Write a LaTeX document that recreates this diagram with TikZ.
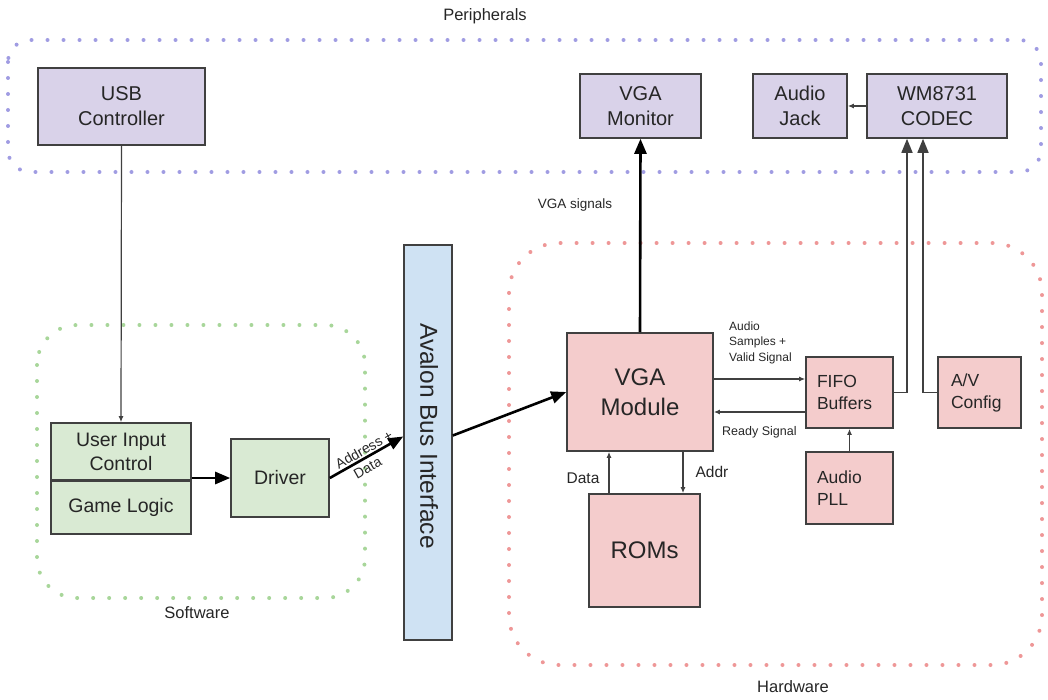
\documentclass[tikz,border=0pt]{standalone}
\usepackage{fontspec}
\setmainfont{Liberation Sans}
\usetikzlibrary{arrows.meta,calc}
\definecolor{lav}{HTML}{D9D2E9}
\definecolor{grn}{HTML}{D9EAD3}
\definecolor{pnk}{HTML}{F4CCCC}
\definecolor{blu}{HTML}{CFE2F3}
\definecolor{pdot}{HTML}{A09CE2}
\definecolor{gdot}{HTML}{A8D69A}
\definecolor{rdot}{HTML}{EE9797}
\definecolor{bordc}{HTML}{404040}
\definecolor{txtc}{HTML}{262626}
\newcommand\fs[2]{\fontsize{#1}{#2}\selectfont}
\tikzset{
  box/.style={draw=bordc, line width=1.6pt, text=txtc, inner sep=0pt, align=center},
  periph/.style={box, fill=lav, font=\fs{20}{25}},
  sw/.style={box, fill=grn, font=\fs{19.5}{24}},
  hw/.style={box, fill=pnk},
  hwl/.style={hw, align=left, font=\fs{17.5}{22}},
  region/.style={line width=4pt, line cap=round, dash pattern=on 0pt off 16pt},
  lbl/.style={text=txtc, inner sep=0pt},
  thinarrow/.style={draw=bordc, line width=1.2pt, -{Latex[length=6pt,width=5pt]}},
  elbowarrow/.style={draw=bordc, line width=1.6pt, -{Triangle[length=14pt,width=11pt]}},
  thickarrow/.style={draw=black, line width=2.6pt, -{Triangle[length=15pt,width=12pt]}}
}
\begin{document}
\begin{tikzpicture}[x=1pt,y=-1pt]
\useasboundingbox (0,0) rectangle (1048,700);

% regions
\draw[region, draw=pdot, rounded corners=22pt] (8,40) rectangle (1041,172);
\draw[region, draw=gdot, rounded corners=40pt] (37,325) rectangle (365,598);
\draw[region, draw=rdot, rounded corners=50pt] (509,243) rectangle (1042,665);
\node[lbl, font=\fs{16.5}{20}] (tper) at (485,16) {Peripherals};
\node[lbl, font=\fs{16.5}{20}] (tsw) at (197,613) {Software};
\node[lbl, font=\fs{16.5}{20}] (thw) at (793,687) {Hardware};

% peripherals
\node[periph, minimum width=167pt, minimum height=77pt] (usb) at (121.5,106.5) {USB\\Controller};
\node[periph, minimum width=121pt, minimum height=64pt] (mon) at (640.5,106) {VGA\\Monitor};
\node[periph, minimum width=94pt, minimum height=64pt] (jack) at (800,106) {Audio\\Jack};
\node[periph, minimum width=140pt, minimum height=64pt] (codec) at (937,106) {WM8731\\CODEC};

% software
\node[sw, minimum width=140pt, minimum height=57pt] (uic) at (121,451.5) {User Input\\Control};
\node[sw, minimum width=140pt, minimum height=54pt] (game) at (121,507) {Game Logic};
\draw[bordc, line width=3pt] (uic.south west) -- (uic.south east);
\node[sw, minimum width=98pt, minimum height=78pt] (driver) at (280,478) {Driver};

% bus
\node[box, fill=blu, minimum width=48pt, minimum height=395pt] (avalon) at (428,442.5) {};
\node[lbl, rotate=-90, font=\fs{24.5}{28}] (avtext) at (429,436) {Avalon Bus Interface};

% hardware
\node[hw, minimum width=146pt, minimum height=118pt, font=\fs{24}{30}] (vga) at (640,392) {VGA\\Module};
\node[hw, minimum width=111pt, minimum height=113pt, font=\fs{24}{30}] (roms) at (644.5,550.5) {ROMs};
\node[hwl, text width=65pt, inner xsep=11pt, minimum height=71pt] (fifo) at (849.5,392.5) {FIFO\\Buffers};
\node[hwl, text width=65pt, inner xsep=11pt, minimum height=72pt] (pll) at (849.5,488) {Audio\\PLL};
\node[hwl, text width=57pt, inner xsep=13pt, minimum height=71pt] (avc) at (979.5,392.5) {A/V\\Config};

% labels
\node[lbl, font=\fs{13.5}{16}] (lvga) at (575,205) {VGA signals};
\node[lbl, font=\fs{12}{15.5}, align=left, anchor=west] (lsamp) at (729,342.5) {Audio\\Samples +\\Valid Signal};
\node[lbl, font=\fs{12.5}{15}, anchor=west] (lready) at (722,432) {Ready Signal};
\node[lbl, font=\fs{15.5}{18}] (ldata) at (583,478) {Data};
\node[lbl, font=\fs{15.5}{18}] (laddr) at (712,472) {Addr};

% helper coordinates
\coordinate (asy) at ($(fifo.west)+(0,-13.5)$);
\coordinate (rdy) at ($(fifo.west)+(0,19.5)$);
\coordinate (dat) at ($(roms.north)+(-35.5,0)$);
\coordinate (adr) at ($(vga.south)+(43,0)$);
\coordinate (c1) at ($(codec.south)+(-30,0)$);
\coordinate (c2) at ($(codec.south)+(-14,0)$);

% connectors
\draw[thinarrow] (usb.south) -- (uic.north);
\draw[thickarrow] (uic.south east |- driver.west) -- (driver.west);
\draw[thickarrow] (driver.east) -- ([yshift=6pt]avalon.west)
  node[pos=0.52, sloped, above=1.5pt, lbl, font=\fs{14}{17}] {Address +}
  node[pos=0.45, sloped, below=3.5pt, lbl, font=\fs{14}{17}] {Data};
\draw[thickarrow] ([yshift=7pt]avalon.east) -- (vga.west);
\draw[thickarrow] (vga.north) -- (mon.south);
\draw[thinarrow] (codec.west) -- (jack.east);
\draw[thinarrow] (vga.east |- asy) -- (asy);
\draw[thinarrow] (rdy) -- (vga.east |- rdy);
\draw[thinarrow] (dat) -- (dat |- vga.south);
\draw[thinarrow] (adr) -- (adr |- roms.north);
\draw[thinarrow] (pll.north) -- (fifo.south);
\draw[elbowarrow] (fifo.east) -| (c1);
\draw[elbowarrow] (avc.west) -| (c2);
\end{tikzpicture}
\end{document}
